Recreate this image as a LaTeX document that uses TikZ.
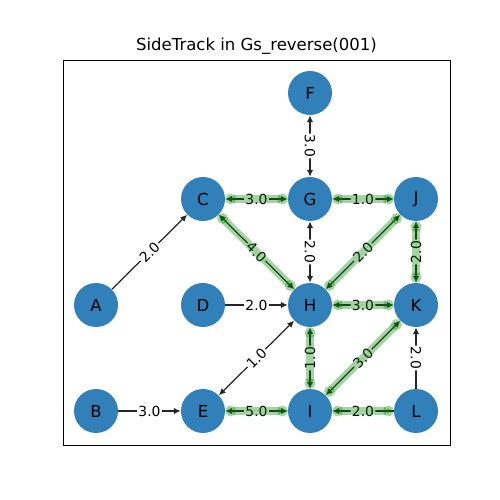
\documentclass[tikz,border=0pt]{standalone}
\usepackage{fontspec}
\setmainfont{DejaVu Sans}
\usetikzlibrary{arrows.meta}

\definecolor{nodeblue}{RGB}{49,128,186}
\definecolor{hlgreen}{RGB}{0,128,0}

\tikzset{
  vtx/.style={circle, fill=nodeblue, minimum size=0.88cm, inner sep=0pt, font=\fontsize{9.4}{11}\selectfont},
  edge/.style={draw=black!85, line width=0.7pt},
  one/.style={edge, -{Latex[length=3.8pt,width=3.6pt]}},
  two/.style={edge, {Latex[length=3.8pt,width=3.6pt]}-{Latex[length=3.8pt,width=3.6pt]}},
  wlabel/.style={fill=white, rounded corners=1pt, inner sep=0.8pt, font=\fontsize{7.9}{9}\selectfont},
  hl/.style={draw=hlgreen, fill=hlgreen, opacity=0.35, line width=4.5pt, {Circle[length=6pt]}-{Circle[length=6pt]}},
}

\begin{document}
\begin{tikzpicture}
\useasboundingbox (0,0) rectangle (10,10);

% Frame and title
\draw[line width=0.55pt] (1.26,1.1) rectangle (9.0,8.8);
\node (title) at (5.13,9.08) {\fontsize{9.4}{11}\selectfont SideTrack in Gs\_reverse(001)};

% Nodes
\node[vtx] (F) at (6.2,8.14) {F};
\node[vtx] (C) at (4.06,6.02) {C};
\node[vtx] (G) at (6.2,6.02) {G};
\node[vtx] (J) at (8.32,6.02) {J};
\node[vtx] (A) at (1.92,3.9) {A};
\node[vtx] (D) at (4.06,3.9) {D};
\node[vtx] (H) at (6.2,3.9) {H};
\node[vtx] (K) at (8.32,3.9) {K};
\node[vtx] (B) at (1.92,1.78) {B};
\node[vtx] (E) at (4.06,1.78) {E};
\node[vtx] (I) at (6.2,1.78) {I};
\node[vtx] (L) at (8.32,1.78) {L};

% Edges with weights
\draw[two] (F) -- node[wlabel, rotate=-90] (wFG) {3.0} (G);
\draw[two] (C) -- node[wlabel] (wCG) {3.0} (G);
\draw[two] (G) -- node[wlabel] (wGJ) {1.0} (J);
\draw[two] (C) -- node[wlabel, rotate=-45] (wCH) {4.0} (H);
\draw[two] (G) -- node[wlabel, rotate=-90] (wGH) {2.0} (H);
\draw[two] (J) -- node[wlabel, rotate=45] (wJH) {2.0} (H);
\draw[two] (J) -- node[wlabel, rotate=90] (wJK) {2.0} (K);
\draw[one] (A) -- node[wlabel, rotate=45] (wAC) {2.0} (C);
\draw[one] (D) -- node[wlabel] (wDH) {2.0} (H);
\draw[two] (H) -- node[wlabel] (wHK) {3.0} (K);
\draw[two] (E) -- node[wlabel, rotate=45] (wEH) {1.0} (H);
\draw[two] (H) -- node[wlabel, rotate=90] (wHI) {1.0} (I);
\draw[two] (I) -- node[wlabel, rotate=45] (wIK) {3.0} (K);
\draw[one] (L) -- node[wlabel, rotate=-90] (wLK) {2.0} (K);
\draw[one] (B) -- node[wlabel] (wBE) {3.0} (E);
\draw[two] (E) -- node[wlabel] (wEI) {5.0} (I);
\draw[one] (L) -- node[wlabel] (wLI) {2.0} (I);

% Side track highlight
\foreach \a/\b in {C/G,G/J,C/H,J/H,J/K,H/K,H/I,I/K,E/I,L/I}
  \draw[hl] (\a) -- (\b);

\end{tikzpicture}
\end{document}
